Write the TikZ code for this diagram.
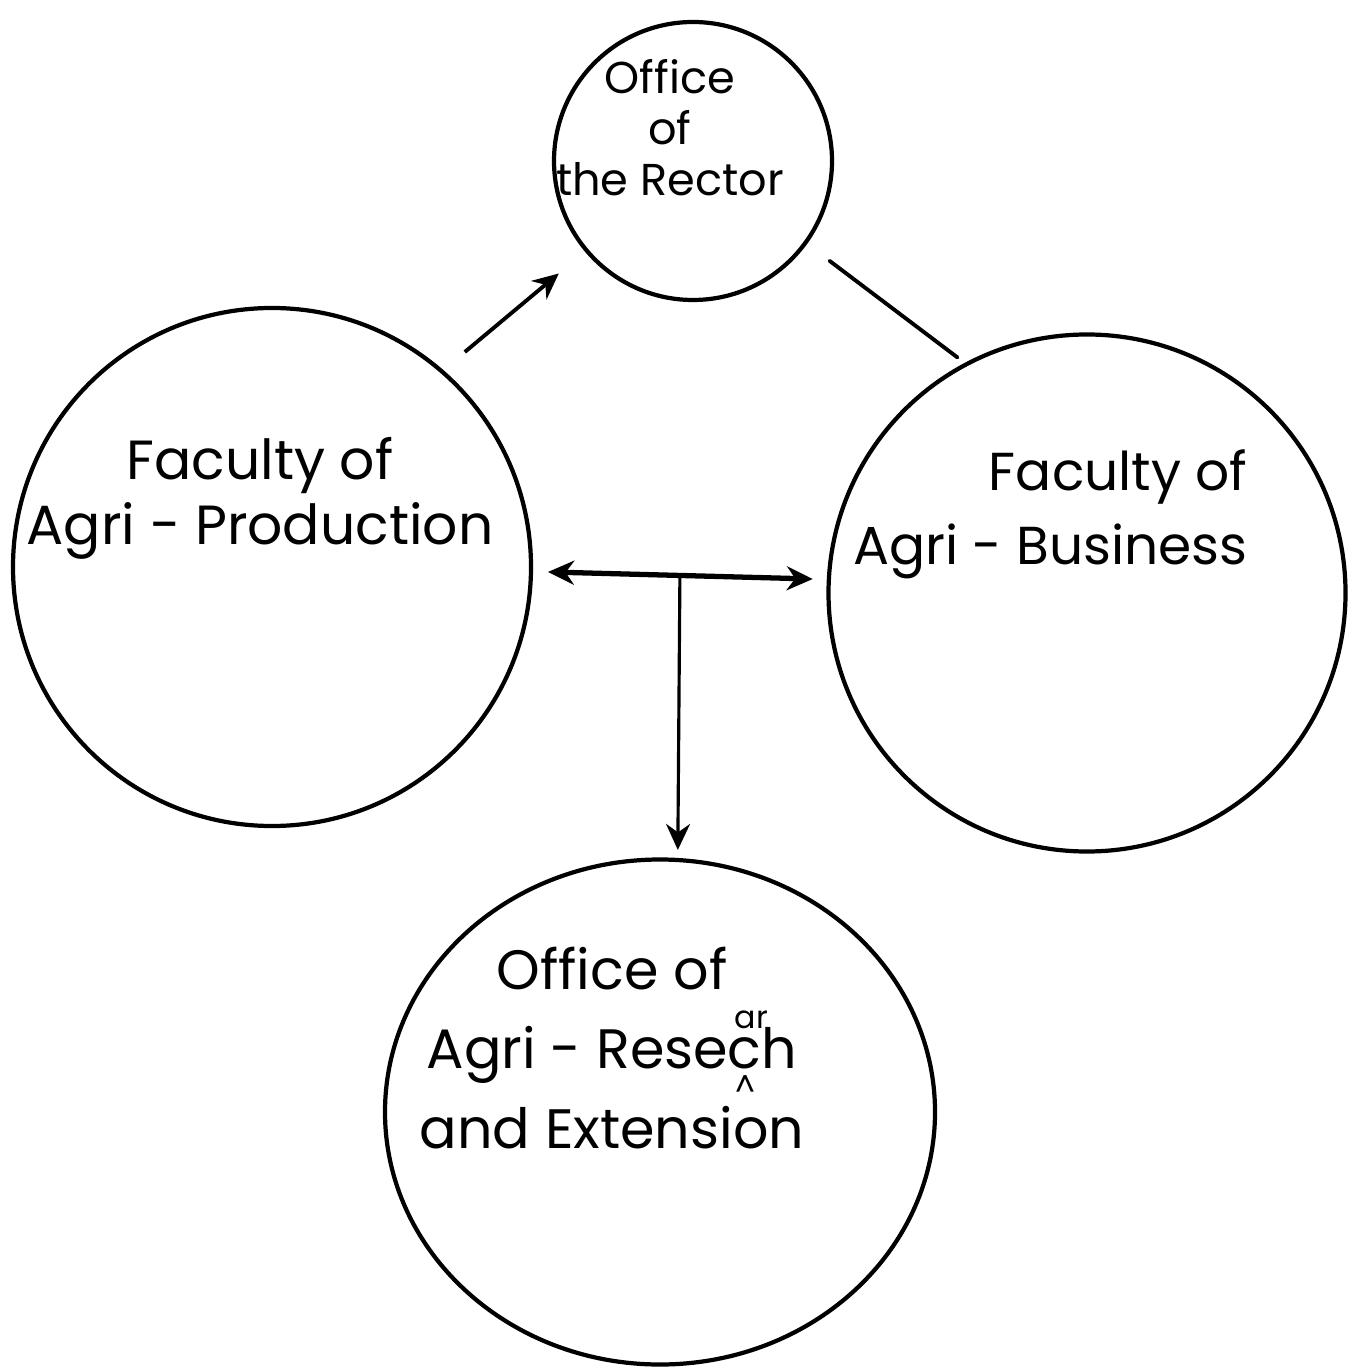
\documentclass[tikz,border=0pt]{standalone}
\usepackage{fontspec}
\setmainfont{Poppins}
\usetikzlibrary{calc}
\usetikzlibrary{arrows.meta}
\usetikzlibrary{shapes.geometric}

\newcommand{\tinyhand}{\fontsize{9}{9}\selectfont}

\begin{document}
\begin{tikzpicture}[
    unit/.style={circle,draw=black,line width=1.2pt,inner sep=0pt},
    hand/.style={align=center,inner sep=0pt},
    tip/.style={-{Stealth[length=2.6mm,width=2.4mm]}},
  ]
  \useasboundingbox (0,0) rectangle (13.54,-13.72);

  % Place the circles
  \node[unit,minimum size=2.78cm] (rec) at (6.93,-1.61) {};
  \node[unit,minimum size=5.18cm] (prod) at (2.72,-5.67) {};
  \node[unit,minimum size=5.17cm] (bus) at (10.87,-5.93) {};
  \node[unit,ellipse,minimum width=5.50cm,minimum height=5.05cm] (res) at (6.60,-11.12) {};

  % Place the texts
  \node[hand,font=\fontsize{12.7}{14.5}\selectfont] (trec) at (6.70,-1.28) {Office\\of\\the Rector};
  \node[hand,font=\fontsize{15.7}{18.5}\selectfont] (tprod) at (2.60,-4.98) {Faculty of\\Agri - Production};
  \node[hand,font=\fontsize{15.2}{21}\selectfont,align=right,anchor=east] (tbus) at (12.48,-5.14) {Faculty of\\Agri - Business};
  \node[hand,font=\fontsize{15.8}{22.5}\selectfont] (tres) at (6.12,-10.48)
    {Office of\\Agri - Rese\makebox[0pt][l]{\hspace{0.12em}\raisebox{11.5pt}{\tinyhand ar}}c\makebox[0pt][r]{\raisebox{-8pt}{\tinyhand\^{}}\hspace{0.12em}}h\\and Extension};

  % The lines!
  \draw[tip,line width=1.1pt,shorten <=0.28cm,shorten >=0.34cm] (prod.49) -- (rec.220);
  \draw[line width=1.1pt,line cap=round,shorten <=0.28cm,shorten >=0.09cm] (rec.324) -- (bus.118);
  \draw[{Stealth[length=2.6mm,width=2.4mm]}-{Stealth[length=2.6mm,width=2.4mm]},line width=1.5pt,shorten <=0.15cm,shorten >=0.14cm] (prod.359) -- (bus.177);
  \coordinate (tee) at ($(prod.359)!0.5!(bus.177)$);
  \draw[tip,line width=0.9pt,shorten >=0.08cm] (tee) -- (res.86);
\end{tikzpicture}
\end{document}
